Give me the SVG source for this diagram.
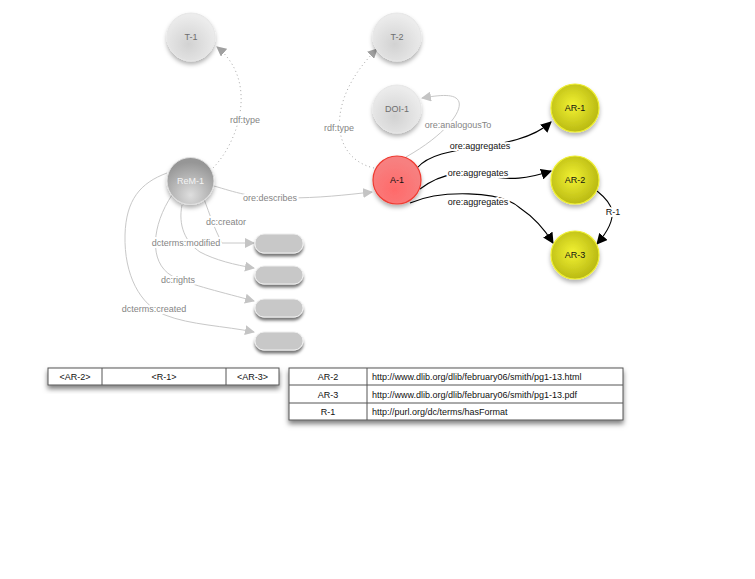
<svg xmlns="http://www.w3.org/2000/svg" width="755" height="579" viewBox="0 0 755 579">
<defs>
  <radialGradient id="gLight" cx="0.45" cy="0.65" r="0.6">
    <stop offset="0" stop-color="#d2d2d2"/>
    <stop offset="1" stop-color="#ececec"/>
  </radialGradient>
  <radialGradient id="gRem" cx="0.5" cy="0.8" r="0.7">
    <stop offset="0" stop-color="#dedede"/>
    <stop offset="1" stop-color="#969696"/>
  </radialGradient>
  <radialGradient id="gRed" cx="0.45" cy="0.7" r="0.6">
    <stop offset="0" stop-color="#ff6a6a"/>
    <stop offset="1" stop-color="#f78080"/>
  </radialGradient>
  <radialGradient id="gYel" cx="0.45" cy="0.45" r="0.6">
    <stop offset="0" stop-color="#f2f233"/>
    <stop offset="1" stop-color="#b5b510"/>
  </radialGradient>
  <filter id="sh" x="-30%" y="-30%" width="160%" height="170%">
    <feDropShadow dx="0" dy="3" stdDeviation="2.2" flood-color="#000" flood-opacity="0.3"/>
  </filter>
  <filter id="shR" x="-20%" y="-30%" width="140%" height="200%">
    <feDropShadow dx="0" dy="3" stdDeviation="1.8" flood-color="#000" flood-opacity="0.55"/>
  </filter>
  <filter id="shT" x="-5%" y="-20%" width="110%" height="170%">
    <feDropShadow dx="0" dy="3.5" stdDeviation="2.5" flood-color="#000" flood-opacity="0.5"/>
  </filter>
  <marker id="aG" viewBox="0 0 10 10" refX="9" refY="5" markerWidth="10" markerHeight="10" markerUnits="userSpaceOnUse" orient="auto">
    <path d="M0,0 L10,5 L0,10 z" fill="#c4c4c4"/>
  </marker>
  <marker id="aD" viewBox="0 0 10 10" refX="9" refY="5" markerWidth="10" markerHeight="10" markerUnits="userSpaceOnUse" orient="auto">
    <path d="M0,0 L10,5 L0,10 z" fill="#a0a0a0"/>
  </marker>
  <marker id="aB" viewBox="0 0 10 10" refX="9" refY="5" markerWidth="11" markerHeight="11" markerUnits="userSpaceOnUse" orient="auto">
    <path d="M0,0 L10,5 L0,10 z" fill="#000"/>
  </marker>
</defs>
<style>
  text { font-family: "Liberation Sans", Arial, sans-serif; }
  .lg { fill: none; stroke: #c8c8c8; stroke-width: 1; marker-end: url(#aG); }
  .dt { fill: none; stroke: #a8a8a8; stroke-width: 1; stroke-dasharray: 1 3; marker-end: url(#aD); }
  .bk { fill: none; stroke: #000; stroke-width: 1.1; marker-end: url(#aB); }
  .lbl { font-size: 9px; fill: #858585; text-anchor: middle; stroke: #fff; stroke-width: 4; paint-order: stroke; stroke-linejoin: round; }
  .lblk { font-size: 9px; fill: #111; text-anchor: middle; stroke: #fff; stroke-width: 4; paint-order: stroke; stroke-linejoin: round; }
  .nt { font-size: 9px; text-anchor: middle; dominant-baseline: central; }
  .light { fill: url(#gLight); stroke: #e6e6e6; stroke-width: 1; filter: url(#sh); }
  .yel { fill: url(#gYel); stroke: #eeee30; stroke-width: 1.2; filter: url(#sh); }
  .lit { fill: #c8c8c8; stroke: #eeeeee; stroke-width: 1; filter: url(#shR); }
  .tb { fill: #fff; stroke: #555; stroke-width: 1; }
  .tt { font-size: 9px; fill: #111; }
</style>
<rect width="755" height="579" fill="#fff"/>

<g id="connectors">
  <path class="dt" d="M213,168 C240,140 258,80 217,47"/>
  <path class="dt" d="M374,168 C330,158 325,100 377,49"/>
  <path class="lg" d="M214,186 C235,192 250,198 285,198 C320,198 345,195 372,192"/>
  <path class="lg" d="M406,157 C445,135 462,112 459,102 C456,93 440,95 422,98"/>
  <path class="bk" d="M417,168 C440,140 515,155 551,122"/>
  <path class="bk" d="M420,189 C445,170 470,172 480,174 C510,182 530,178 551,171"/>
  <path class="bk" d="M410,203 C440,190 500,190 520,208 C535,218 545,230 553,243"/>
  <path class="bk" d="M597,191 C612,203 622,215 597,244"/>
  <path class="lg" d="M204,199 C210,215 214,228 222,243 L254,243"/>
  <path class="lg" d="M182,205 C178,225 185,242 200,252 C215,260 235,265 254,268"/>
  <path class="lg" d="M172,195 C152,225 148,262 172,276 C190,285 225,293 254,301"/>
  <path class="lg" d="M167,173 C140,183 126,200 125,235 C124,275 140,305 165,315 C190,325 225,326 254,332"/>
</g>

<g id="labels">
  <text class="lbl" x="245" y="123">rdf:type</text>
  <text class="lbl" x="339" y="131">rdf:type</text>
  <text class="lbl" x="270" y="201">ore:describes</text>
  <text class="lbl" x="458" y="128">ore:analogousTo</text>
  <text class="lblk" x="480" y="149">ore:aggregates</text>
  <text class="lblk" x="478" y="176">ore:aggregates</text>
  <text class="lblk" x="478" y="205">ore:aggregates</text>
  <text class="lblk" x="613" y="215">R-1</text>
  <text class="lbl" x="226" y="225">dc:creator</text>
  <text class="lbl" x="186" y="246">dcterms:modified</text>
  <text class="lbl" x="178" y="283">dc:rights</text>
  <text class="lbl" x="154" y="312">dcterms:created</text>
</g>

<g id="T-1"><circle class="light" cx="191" cy="37" r="24"/><text class="nt" x="191" y="37" fill="#6e6e6e">T-1</text></g>
<g id="T-2"><circle class="light" cx="397" cy="37" r="24"/><text class="nt" x="397" y="37" fill="#6e6e6e">T-2</text></g>
<g id="DOI-1"><circle class="light" cx="397" cy="109" r="24"/><text class="nt" x="397" y="109" fill="#6e6e6e">DOI-1</text></g>
<g id="ReM-1"><circle cx="190.5" cy="181" r="23.5" fill="url(#gRem)" stroke="#e0e0e0" stroke-width="1" filter="url(#sh)"/><text class="nt" x="190.5" y="181" fill="#f4f4f4">ReM-1</text></g>
<g id="A-1"><circle cx="397" cy="180" r="24" fill="url(#gRed)" stroke="#ee3a30" stroke-width="1.2" filter="url(#sh)"/><text class="nt" x="397" y="180" fill="#111">A-1</text></g>
<g id="AR-1"><circle class="yel" cx="575" cy="108" r="24"/><text class="nt" x="575" y="108" fill="#111">AR-1</text></g>
<g id="AR-2"><circle class="yel" cx="575" cy="180" r="24"/><text class="nt" x="575" y="180" fill="#111">AR-2</text></g>
<g id="AR-3"><circle class="yel" cx="575" cy="255" r="24"/><text class="nt" x="575" y="255" fill="#111">AR-3</text></g>

<g id="lit-1"><rect class="lit" x="255" y="234" width="48" height="19" rx="9" ry="9"/></g>
<g id="lit-2"><rect class="lit" x="255" y="266" width="48" height="18" rx="9" ry="9"/></g>
<g id="lit-3"><rect class="lit" x="255" y="299" width="48" height="18" rx="9" ry="9"/></g>
<g id="lit-4"><rect class="lit" x="255" y="332" width="48" height="18" rx="9" ry="9"/></g>

<g id="table-left">
  <rect class="tb" x="48" y="368" width="231" height="17" filter="url(#shT)"/>
  <line x1="102" y1="368" x2="102" y2="385" stroke="#555"/>
  <line x1="226" y1="368" x2="226" y2="385" stroke="#555"/>
  <text class="tt" x="75" y="380" text-anchor="middle">&lt;AR-2&gt;</text>
  <text class="tt" x="164" y="380" text-anchor="middle">&lt;R-1&gt;</text>
  <text class="tt" x="252.5" y="380" text-anchor="middle">&lt;AR-3&gt;</text>
</g>

<g id="table-right">
  <rect class="tb" x="289" y="368" width="334" height="52" filter="url(#shT)"/>
  <line x1="367" y1="368" x2="367" y2="420" stroke="#555"/>
  <line x1="289" y1="385" x2="623" y2="385" stroke="#555"/>
  <line x1="289" y1="403" x2="623" y2="403" stroke="#555"/>
  <text class="tt" x="328" y="380" text-anchor="middle">AR-2</text>
  <text class="tt" x="328" y="397.5" text-anchor="middle">AR-3</text>
  <text class="tt" x="328" y="415" text-anchor="middle">R-1</text>
  <text class="tt" x="372" y="380">http://www.dlib.org/dlib/february06/smith/pg1-13.html</text>
  <text class="tt" x="372" y="397.5">http://www.dlib.org/dlib/february06/smith/pg1-13.pdf</text>
  <text class="tt" x="372" y="415">http://purl.org/dc/terms/hasFormat</text>
</g>
</svg>
